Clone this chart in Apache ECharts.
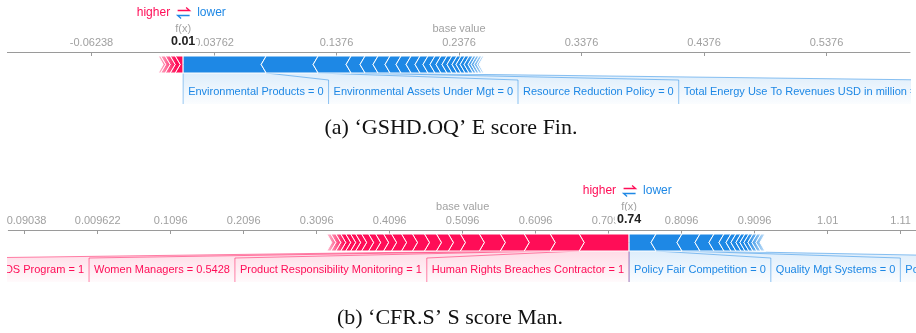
<!DOCTYPE html>
<html>
<head>
<meta charset="utf-8">
<script src="https://cdn.jsdelivr.net/npm/echarts@6/dist/echarts.min.js"></script>
<style>
  html, body { margin: 0; padding: 0; background: #fff; }
  #chart { width: 916px; height: 333px; }
</style>
</head>
<body>
<div id="chart"></div>
<script>
// ---- (a) 'GSHD.OQ' E score Fin. ----
const baseA = 0.2376;
const posA = [0.0065, 0.0041, 0.0041, 0.0037, 0.0020];
const negA = [0.0678, 0.0424, 0.0269, 0.0114, 0.0106, 0.0098, 0.0090, 0.0082, 0.0073, 0.0065,
              0.0057, 0.0049, 0.0049, 0.0041, 0.0041, 0.0033, 0.0033, 0.0033, 0.0033, 0.0024,
              0.0024, 0.0024, 0.0016];
const posNamesA = [];
const negNamesA = ['Environmental Products = 0', 'Environmental Assets Under Mgt = 0',
                   'Resource Reduction Policy = 0', 'Total Energy Use To Revenues USD in million = 0'];
const tickValsA = [-0.06238, 0.03762, 0.1376, 0.2376, 0.3376, 0.4376, 0.5376];
const tickTextA = ['-0.06238', '0.03762', '0.1376', '0.2376', '0.3376', '0.4376', '0.5376'];
const rangeA = [-0.13138, 0.60576];
const captionA = '(a) \u2018GSHD.OQ\u2019 E score Fin.';

// ---- (b) 'CFR.S' S score Man. ----
const baseB = 0.5096;
const posB = [0.0684, 0.0397, 0.0356, 0.0328, 0.0287, 0.0260, 0.0164, 0.0164, 0.0164, 0.0164,
              0.0150, 0.0137, 0.0109, 0.0109, 0.0096, 0.0096, 0.0082, 0.0068, 0.0068, 0.0068,
              0.0068, 0.0068, 0.0055];
const negB = [0.0369, 0.0356, 0.0246, 0.0192, 0.0137, 0.0096, 0.0068, 0.0068, 0.0055, 0.0055,
              0.0055, 0.0055, 0.0055, 0.0055];
const posNamesB = ['Human Rights Breaches Contractor = 1', 'Product Responsibility Monitoring = 1',
                   'Women Managers = 0.5428', 'HIV-AIDS Program = 1'];
const negNamesB = ['Policy Fair Competition = 0', 'Quality Mgt Systems = 0',
                   'Policy Bribery and Corruption = 0'];
const tickValsB = [-0.09038, 0.009622, 0.1096, 0.2096, 0.3096, 0.4096, 0.5096, 0.6096, 0.7096,
                   0.8096, 0.9096, 1.0096, 1.1096];
const tickTextB = ['-0.09038', '0.009622', '0.1096', '0.2096', '0.3096', '0.4096', '0.5096',
                   '0.6096', '0.7096', '0.8096', '0.9096', '1.01', '1.11'];
const rangeB = [-0.11284, 1.13066];
const captionB = '(b) \u2018CFR.S\u2019 S score Man.';

// ---- styling ----
const RED = '#ff0d57', BLUE = '#1e88e5';
const RED_RGB = '255,13,87', BLUE_RGB = '30,136,229';
const SANS = '"Liberation Sans", Arial, Helvetica, sans-serif';
const SERIF = '"Liberation Serif", "DejaVu Serif", serif';
const BAR_GAP = 4, BAR_H = 17, CHEV = 5;
const LAB_TOP = 7, LAB_BOT = 31, LAB_TEXT = 19, LAB_PAD = 5;
const FADE_W = 18;

const measureCtx = document.createElement('canvas').getContext('2d');
function textWidth(s, size) {
  measureCtx.font = size + 'px ' + SANS;
  return measureCtx.measureText(s).width;
}
const sum = a => a.reduce((s, v) => s + v, 0);

function txt(text, x, y, opt) {
  return {
    type: 'text',
    style: Object.assign({
      text, x, y,
      fontSize: 11, fontFamily: SANS, fill: '#999',
      align: 'center', textAlign: 'center',
      verticalAlign: 'middle', textVerticalAlign: 'middle'
    }, opt || {})
  };
}

function buildPanel(gi, base, pos, neg, posNames, negNames) {
  const fx = base + sum(pos) - sum(neg);

  // stacked effect segments: red grows leftwards from f(x), blue rightwards
  const segs = [];
  let x = fx;
  pos.forEach((v, i) => { segs.push([x - v, x, 1, i]); x -= v; });
  const redEnd = x;
  x = fx;
  neg.forEach((v, i) => { segs.push([x, x + v, -1, i]); x += v; });
  const blueEnd = x;

  // feature labels laid out outwards from f(x)
  const labs = [];
  [[posNames, 1], [negNames, -1]].forEach(([names, side]) => {
    let cum = 0;
    names.forEach((name, k) => {
      const seg = segs.find(s => s[2] === side && s[3] === k);
      const w = textWidth(name, 11) + 2 * LAB_PAD;
      labs.push({ value: [seg[0], seg[1], side, k, cum, w], name });
      cum += w;
    });
  });

  const barSeries = {
    type: 'custom', xAxisIndex: gi, yAxisIndex: gi, clip: false, z: 3,
    data: segs,
    renderItem(params, api) {
      const s = api.value(0), e = api.value(1), side = api.value(2), idx = api.value(3);
      const x0 = api.coord([s, 0])[0], x1 = api.coord([e, 0])[0];
      const top = params.coordSys.y + BAR_GAP, bot = top + BAR_H, mid = top + BAR_H / 2;
      const tip = idx === 0 ? 0 : CHEV;
      let pts;
      if (side > 0) {
        pts = [[x0, top], [x1, top], [x1 + tip, mid], [x1, bot], [x0, bot], [x0 + CHEV, mid]];
      } else {
        pts = [[x0, top], [x1, top], [x1 - CHEV, mid], [x1, bot], [x0, bot], [x0 - tip, mid]];
      }
      return {
        type: 'polygon', shape: { points: pts },
        style: { fill: side > 0 ? RED : BLUE, stroke: '#fff', lineWidth: 1 }
      };
    }
  };

  const fadeSeries = {
    type: 'custom', xAxisIndex: gi, yAxisIndex: gi, clip: false, z: 4,
    data: [[redEnd, 1], [blueEnd, -1]],
    renderItem(params, api) {
      const v = api.value(0), side = api.value(1);
      const px = api.coord([v, 0])[0];
      const top = params.coordSys.y + BAR_GAP - 1;
      const stops = [
        { offset: 0, color: 'rgba(255,255,255,0.78)' },
        { offset: 1, color: 'rgba(255,255,255,0)' }
      ];
      const grad = side > 0
        ? new echarts.graphic.LinearGradient(0, 0, 1, 0, stops)
        : new echarts.graphic.LinearGradient(1, 0, 0, 0, stops);
      const rx = side > 0 ? px - 1 : px - FADE_W;
      return {
        type: 'rect', shape: { x: rx, y: top, width: FADE_W + 1, height: BAR_H + 2 },
        style: { fill: grad }
      };
    }
  };

  const labelSeries = {
    type: 'custom', xAxisIndex: gi, yAxisIndex: gi, clip: false, z: 2,
    data: labs.map(l => l.value),
    renderItem(params, api) {
      const item = labs[params.dataIndex];
      const s = api.value(0), e = api.value(1), side = api.value(2), k = api.value(3);
      const cum = api.value(4), w = api.value(5);
      const fxPx = api.coord([fx, 0])[0];
      const sPx = api.coord([s, 0])[0], ePx = api.coord([e, 0])[0];
      const bb = params.coordSys.y + BAR_GAP + BAR_H;
      const lt = bb + LAB_TOP, lb = bb + LAB_BOT;
      let b0, b1;
      if (side < 0) { b0 = fxPx + cum; b1 = b0 + w; } else { b1 = fxPx - cum; b0 = b1 - w; }
      const rgb = side > 0 ? RED_RGB : BLUE_RGB;
      const grad = new echarts.graphic.LinearGradient(0, 0, 0, 1, [
        { offset: 0, color: 'rgba(' + rgb + ',0.15)' },
        { offset: 1, color: 'rgba(' + rgb + ',0.02)' }
      ]);
      const children = [{
        type: 'polygon',
        shape: { points: [[sPx, bb], [ePx, bb], [b1, lt], [b1, lb], [b0, lb], [b0, lt]] },
        style: { fill: grad }
      }];
      const segOuter = side < 0 ? ePx : sPx, boxOuter = side < 0 ? b1 : b0;
      children.push({
        type: 'polyline',
        shape: { points: [[segOuter, bb], [boxOuter, lt], [boxOuter, lb]] },
        style: { stroke: 'rgba(' + rgb + ',0.5)', lineWidth: 1, fill: null }
      });
      if (k === 0) {
        children.push({
          type: 'line', shape: { x1: fxPx, y1: bb, x2: fxPx, y2: lb },
          style: { stroke: 'rgba(' + rgb + ',0.45)', lineWidth: 1 }
        });
      }
      children.push(txt(item.name, side < 0 ? b0 + LAB_PAD : b1 - LAB_PAD, bb + LAB_TEXT, {
        fill: side > 0 ? RED : BLUE,
        align: side < 0 ? 'left' : 'right', textAlign: side < 0 ? 'left' : 'right'
      }));
      return { type: 'group', children };
    }
  };

  const annotSeries = {
    type: 'custom', xAxisIndex: gi, yAxisIndex: gi, clip: false, z: 5,
    data: [[fx, base]],
    renderItem(params, api) {
      const fxPx = api.coord([api.value(0), 0])[0];
      const basePx = api.coord([api.value(1), 0])[0];
      const ay = params.coordSys.y;
      const hy = ay - 39;
      const cx = fxPx + 0.5;
      return {
        type: 'group',
        children: [
          txt('base value', basePx, ay - 23, { fill: '#a3a3a3' }),
          txt('f(x)', fxPx, ay - 23, { fill: '#a3a3a3' }),
          txt(api.value(0).toFixed(2), fxPx, ay - 10, {
            fill: '#222', fontWeight: 'bold', fontSize: 12.5, stroke: '#fff', lineWidth: 6
          }),
          txt('higher', fxPx - 13, hy, { fill: RED, fontSize: 12, align: 'right', textAlign: 'right' }),
          txt('lower', fxPx + 14, hy, { fill: BLUE, fontSize: 12, align: 'left', textAlign: 'left' }),
          {
            type: 'polyline',
            shape: { points: [[cx - 6, hy - 2.5], [cx + 6, hy - 2.5], [cx + 2.5, hy - 5.5]] },
            style: { stroke: RED, lineWidth: 1.3, fill: null }
          },
          {
            type: 'polyline',
            shape: { points: [[cx + 6, hy + 2.5], [cx - 6, hy + 2.5], [cx - 2.5, hy + 5.5]] },
            style: { stroke: BLUE, lineWidth: 1.3, fill: null }
          }
        ]
      };
    }
  };

  return [labelSeries, barSeries, fadeSeries, annotSeries];
}

function xAxisFor(gi, range, vals, texts) {
  return {
    gridIndex: gi, type: 'value', position: 'top', min: range[0], max: range[1],
    axisLine: { show: true, onZero: false, lineStyle: { color: '#9a9a9a', width: 1 } },
    axisTick: { show: true, inside: true, length: 4, customValues: vals,
                lineStyle: { color: '#9a9a9a' } },
    axisLabel: {
      show: true, customValues: vals, margin: 4, color: '#a0a0a0', fontSize: 11, fontFamily: SANS,
      formatter: v => {
        const i = vals.findIndex(t => Math.abs(t - v) < 1e-9);
        return i >= 0 ? texts[i] : '';
      }
    },
    splitLine: { show: false }
  };
}

const chart = echarts.init(document.getElementById('chart'), null, { renderer: 'canvas' });
chart.setOption({
  animation: false,
  backgroundColor: '#fff',
  grid: [
    { left: 7, right: 6, top: 52, height: 60 },
    { left: 7, right: 0, top: 230, height: 60 }
  ],
  xAxis: [xAxisFor(0, rangeA, tickValsA, tickTextA), xAxisFor(1, rangeB, tickValsB, tickTextB)],
  yAxis: [
    { gridIndex: 0, type: 'value', min: 0, max: 1, show: false },
    { gridIndex: 1, type: 'value', min: 0, max: 1, show: false }
  ],
  series: [
    ...buildPanel(0, baseA, posA, negA, posNamesA, negNamesA),
    ...buildPanel(1, baseB, posB, negB, posNamesB, negNamesB)
  ],
  graphic: [
    // crop edges of the two force-plot strips
    { type: 'rect', z: 100, shape: { x: 0, y: 0, width: 7, height: 300 }, style: { fill: '#fff' } },
    { type: 'rect', z: 100, shape: { x: 911, y: 0, width: 5, height: 112 }, style: { fill: '#fff' } },
    {
      type: 'text', z: 100, x: 451, y: 128,
      style: { text: captionA, fill: '#111', fontSize: 22, fontFamily: SERIF,
               align: 'center', textAlign: 'center', verticalAlign: 'middle', textVerticalAlign: 'middle' }
    },
    {
      type: 'text', z: 100, x: 450, y: 318,
      style: { text: captionB, fill: '#111', fontSize: 22, fontFamily: SERIF,
               align: 'center', textAlign: 'center', verticalAlign: 'middle', textVerticalAlign: 'middle' }
    }
  ]
});
</script>
</body>
</html>
